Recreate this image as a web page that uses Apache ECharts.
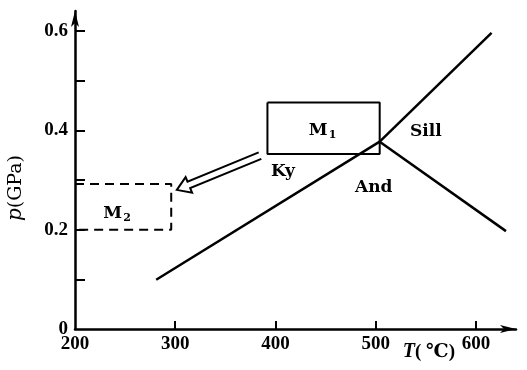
<!DOCTYPE html>
<html><head><meta charset="utf-8">
<script src="https://cdn.jsdelivr.net/npm/echarts@6/dist/echarts.min.js"></script>
<style>html,body{margin:0;padding:0;background:#fff}#c{width:527px;height:370px}</style>
</head><body><div id="c"></div>
<script>
// Phase boundaries (T in °C, p in GPa)
const kyAndBoundary = [[281, 0.099], [504, 0.377]];
const kySillBoundary = [[504, 0.377], [615.6, 0.596]];
const andSillBoundary = [[504, 0.377], [630, 0.197]];
// Boxes
const boxM1 = [[392, 0.456], [504, 0.456], [504, 0.352], [392, 0.352], [392, 0.456]];
const boxM2 = [[200, 0.292], [296, 0.292], [296, 0.2], [200, 0.2]];
// Arrow (tail -> tip)
const arrowM1toM2 = [[384.6, 0.349], [301.6, 0.280]];
// Text labels
const fieldLabels = [
  {name: 'Ky', pos: [407.5, 0.316]},
  {name: 'And', pos: [498, 0.284]},
  {name: 'Sill', pos: [550, 0.398]}
];
const boxLabels = [
  {name: 'M', sub: '1', pos: [447, 0.400]},
  {name: 'M', sub: '2', pos: [242, 0.233]}
];
// Axes
const xTicks = [300, 400, 500, 600];
const xTickLabels = [200, 300, 400, 500, 600];
const yTicks = [0.1, 0.2, 0.3, 0.4, 0.5, 0.6];
const yTickLabels = [0, 0.2, 0.4, 0.6];

const FONT = '"Liberation Serif", "DejaVu Serif", serif';
const DFONT = '"DejaVu Serif", serif';
const chart = echarts.init(document.getElementById('c'), null, {renderer: 'canvas'});
const lineS = (data, w, type) => ({
  type: 'line', data: data, symbol: 'none', silent: true, animation: false,
  lineStyle: {color: '#000', width: w, type: type || 'solid'}
});
chart.setOption({
  animation: false,
  grid: {left: 75, top: 11, width: 441, height: 318},
  xAxis: {
    type: 'value', min: 200, max: 640, interval: 100,
    axisLine: {lineStyle: {color: '#000', width: 2.5}, symbol: ['none', 'arrow'], symbolSize: [6, 16]},
    axisTick: {inside: true, length: 8, lineStyle: {color: '#000', width: 2}, customValues: xTicks},
    axisLabel: {customValues: xTickLabels, color: '#000', fontFamily: FONT, fontWeight: 'bold', fontSize: 19, margin: 6},
    splitLine: {show: false}
  },
  yAxis: {
    type: 'value', min: 0, max: 0.64, interval: 0.1,
    axisLine: {lineStyle: {color: '#000', width: 2.5}, symbol: ['none', 'arrow'], symbolSize: [6, 16]},
    axisTick: {inside: true, length: 10, lineStyle: {color: '#000', width: 2}, customValues: yTicks},
    axisLabel: {customValues: yTickLabels, color: '#000', fontFamily: FONT, fontWeight: 'bold', fontSize: 19, margin: 7,
      formatter: v => v === 0 ? '0' : v.toFixed(1)},
    splitLine: {show: false}
  },
  series: [
    lineS(kyAndBoundary, 2.5),
    lineS(kySillBoundary, 2.5),
    lineS(andSillBoundary, 2.5),
    lineS(boxM1, 2),
    lineS(boxM2, 2, [9, 6])
  ]
});

// hollow arrow from M1 to M2
const a = chart.convertToPixel({gridIndex: 0}, arrowM1toM2[0]);
const b = chart.convertToPixel({gridIndex: 0}, arrowM1toM2[1]);
const dx = b[0] - a[0], dy = b[1] - a[1], L = Math.hypot(dx, dy);
const ux = dx / L, uy = dy / L, nx = -uy, ny = ux;
const hw = 3.5, hh = 8.5, hl = 13;
const neck = [b[0] - ux * hl, b[1] - uy * hl];
const P = (p, s) => [p[0] + nx * s, p[1] + ny * s];
const pts = [P(a, hw), P(neck, hw), P(neck, hh), b, P(neck, -hh), P(neck, -hw), P(a, -hw)];

const rich = {
  b: {fontFamily: DFONT, fontWeight: 'bold', fontSize: 17, fill: '#000'},
  s: {fontFamily: DFONT, fontWeight: 'bold', fontSize: 11, fill: '#000', verticalAlign: 'bottom', padding: [9, 0, 0, 1]}
};
const texts = fieldLabels.map(d => {
  const q = chart.convertToPixel({gridIndex: 0}, d.pos);
  return {type: 'text', x: q[0], y: q[1], silent: true,
    style: {text: '{b|' + d.name + '}', align: 'center', verticalAlign: 'middle', rich: rich}};
}).concat(boxLabels.map(d => {
  const q = chart.convertToPixel({gridIndex: 0}, d.pos);
  return {type: 'text', x: q[0], y: q[1], silent: true,
    style: {text: '{b|' + d.name + '}{s|' + d.sub + '}', align: 'center', verticalAlign: 'middle', rich: rich}};
}));

chart.setOption({
  graphic: [
    {type: 'polyline', shape: {points: pts}, style: {stroke: '#000', lineWidth: 2, fill: null, lineJoin: 'miter'}, silent: true},
    {type: 'group', x: 16, y: 188, rotation: Math.PI / 2, children: [
      {type: 'text', style: {text: '{i|p}{n|(GPa)}', x: 0, y: 0, align: 'center', verticalAlign: 'middle',
        rich: {i: {fontFamily: DFONT, fontStyle: 'italic', fontSize: 20, fill: '#000'},
               n: {fontFamily: DFONT, fontSize: 19, fill: '#000'}}}}
    ]},
    {type: 'text', x: 429, y: 352, style: {text: '{i|T}{n|( ℃)}', align: 'center', verticalAlign: 'middle',
      rich: {i: {fontFamily: FONT, fontStyle: 'italic', fontWeight: 'bold', fontSize: 20, fill: '#000'},
             n: {fontFamily: FONT, fontWeight: 'bold', fontSize: 19, fill: '#000'}}}}
  ].concat(texts)
});
</script></body></html>
